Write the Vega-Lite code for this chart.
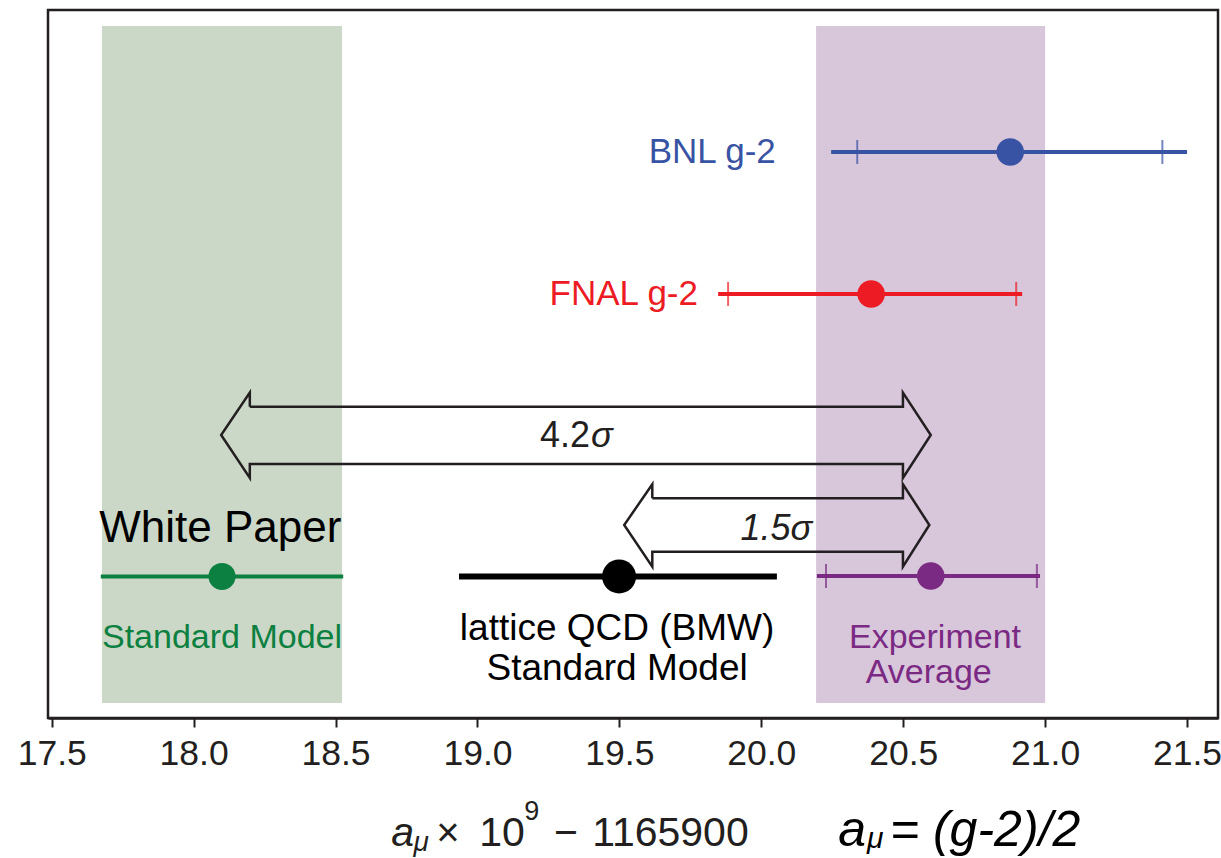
{
  "$schema": "https://vega.github.io/schema/vega-lite/v6.json",
  "width": 1170,
  "height": 708,
  "autosize": {"type": "none"},
  "padding": {"left": 48, "top": 10, "right": 3, "bottom": 140},
  "background": "white",
  "config": {
    "view": {"stroke": "#231f20", "strokeWidth": 2.5},
    "font": "Liberation Sans",
    "text": {"font": "Liberation Sans"}
  },
  "datasets": {
    "bands": [
      {"name": "White Paper band", "lo": 17.677, "hi": 18.523},
      {"name": "Experiment band", "lo": 20.193, "hi": 21.0}
    ],
    "meas": [
      {"name": "White Paper", "row": 20.0, "lo": 17.673, "hi": 18.527, "val": 18.1},
      {"name": "BMW", "row": 20.0, "lo": 18.935, "hi": 20.055, "val": 19.499},
      {"name": "FNAL", "row": 59.9, "lo": 19.848, "hi": 20.919, "val": 20.387},
      {"name": "BNL", "row": 79.94, "lo": 20.246, "hi": 21.5, "val": 20.877},
      {"name": "Experiment", "row": 20.06, "lo": 20.196, "hi": 20.982, "val": 20.597}
    ],
    "caps": [
      {"name": "FNAL", "row": 59.9, "x": 19.883},
      {"name": "FNAL", "row": 59.9, "x": 20.898},
      {"name": "BNL", "row": 79.94, "x": 20.338},
      {"name": "BNL", "row": 79.94, "x": 21.413},
      {"name": "Experiment", "row": 20.06, "x": 20.228},
      {"name": "Experiment", "row": 20.06, "x": 20.971}
    ],
    "arrows": [
      {"arrow": "big", "i": 1, "x": 18.198, "y": 43.97},
      {"arrow": "big", "i": 2, "x": 20.499, "y": 43.97},
      {"arrow": "big", "i": 3, "x": 20.499, "y": 45.95},
      {"arrow": "big", "i": 4, "x": 20.597, "y": 39.97},
      {"arrow": "big", "i": 5, "x": 20.499, "y": 33.9},
      {"arrow": "big", "i": 6, "x": 20.499, "y": 35.88},
      {"arrow": "big", "i": 7, "x": 18.198, "y": 35.88},
      {"arrow": "big", "i": 8, "x": 18.198, "y": 33.9},
      {"arrow": "big", "i": 9, "x": 18.097, "y": 39.97},
      {"arrow": "big", "i": 10, "x": 18.198, "y": 45.95},
      {"arrow": "big", "i": 11, "x": 18.198, "y": 43.97},
      {"arrow": "small", "i": 1, "x": 19.616, "y": 31.03},
      {"arrow": "small", "i": 2, "x": 20.499, "y": 31.03},
      {"arrow": "small", "i": 3, "x": 20.499, "y": 33.01},
      {"arrow": "small", "i": 4, "x": 20.592, "y": 27.26},
      {"arrow": "small", "i": 5, "x": 20.499, "y": 21.37},
      {"arrow": "small", "i": 6, "x": 20.499, "y": 23.49},
      {"arrow": "small", "i": 7, "x": 19.616, "y": 23.49},
      {"arrow": "small", "i": 8, "x": 19.616, "y": 21.37},
      {"arrow": "small", "i": 9, "x": 19.517, "y": 27.26},
      {"arrow": "small", "i": 10, "x": 19.616, "y": 33.01},
      {"arrow": "small", "i": 11, "x": 19.616, "y": 31.03}
    ]
  },
  "layer": [
    {
      "data": {"name": "bands"},
      "mark": {"type": "rect"},
      "encoding": {
        "x": {"field": "lo", "type": "quantitative",
          "scale": {"domain": [17.487, 21.609], "nice": false, "zero": false},
          "axis": {"values": [17.5, 18.0, 18.5, 19.0, 19.5, 20.0, 20.5, 21.0, 21.5], "format": ".1f", "title": null, "grid": false,
            "labelFontSize": 35.5, "labelColor": "#231f20", "labelFont": "Liberation Sans", "labelPadding": 9,
            "tickSize": 9, "tickWidth": 2, "tickColor": "#231f20", "domainColor": "#231f20", "domainWidth": 2.5, "labelFlush": false}},
        "x2": {"field": "hi"},
        "y": {"datum": 2.12, "type": "quantitative", "scale": {"domain": [0, 100], "nice": false, "zero": false}, "axis": null},
        "y2": {"datum": 97.74},
        "color": {"field": "name", "type": "nominal", "legend": null,
          "scale": {"domain": ["White Paper band", "Experiment band", "White Paper", "BMW", "FNAL", "BNL", "Experiment", "Black"],
            "range": ["#cbd8c8", "#d8c6db", "#0b8040", "#000000", "#ed1c24", "#3953a4", "#7b2a83", "#231f20"]}}
      }
    },
    {
      "data": {"name": "arrows"},
      "mark": {"type": "line", "color": "#231f20", "strokeWidth": 2.5, "strokeJoin": "miter", "strokeMiterLimit": 10},
      "encoding": {
        "x": {"field": "x", "type": "quantitative"},
        "y": {"field": "y", "type": "quantitative"},
        "order": {"field": "i", "type": "quantitative"},
        "detail": {"field": "arrow"}
      }
    },
    {
      "data": {"name": "meas"},
      "mark": {"type": "rule"},
      "encoding": {
        "x": {"field": "lo", "type": "quantitative"},
        "x2": {"field": "hi"},
        "y": {"field": "row", "type": "quantitative"},
        "color": {"field": "name", "type": "nominal", "legend": null},
        "strokeWidth": {"field": "name", "type": "nominal", "legend": null,
          "scale": {"type": "ordinal", "domain": ["White Paper", "BMW", "FNAL", "BNL", "Experiment"], "range": [4, 6, 4, 4, 4]}}
      }
    },
    {
      "data": {"name": "caps"},
      "mark": {"type": "tick", "orient": "vertical", "size": 24, "thickness": 2},
      "encoding": {
        "x": {"field": "x", "type": "quantitative"},
        "y": {"field": "row", "type": "quantitative"},
        "color": {"field": "name", "type": "nominal", "legend": null}
      }
    },
    {
      "data": {"name": "meas"},
      "mark": {"type": "point", "shape": "circle", "filled": true, "opacity": 1},
      "encoding": {
        "x": {"field": "val", "type": "quantitative"},
        "y": {"field": "row", "type": "quantitative"},
        "color": {"field": "name", "type": "nominal", "legend": null},
        "size": {"field": "name", "type": "nominal", "legend": null,
          "scale": {"type": "ordinal", "domain": ["White Paper", "BMW", "FNAL", "BNL", "Experiment"], "range": [729, 1156, 756, 756, 756]}}
      }
    },
    {
      "data": {"values": [
        {"name": "BNL", "label": "BNL g-2", "x": 20.051, "y": 78.4},
        {"name": "FNAL", "label": "FNAL g-2", "x": 19.777, "y": 58.3}
      ]},
      "mark": {"type": "text", "align": "right", "baseline": "alphabetic", "fontSize": 35},
      "encoding": {
        "x": {"field": "x", "type": "quantitative"},
        "y": {"field": "y", "type": "quantitative"},
        "text": {"field": "label"},
        "color": {"field": "name", "type": "nominal", "legend": null}
      }
    },
    {
      "data": {"values": [
        {"name": "White Paper", "label": "Standard Model", "x": 18.1, "y": 9.89},
        {"name": "Experiment", "label": "Experiment", "x": 20.612, "y": 9.89},
        {"name": "Experiment", "label": "Average", "x": 20.59, "y": 4.94}
      ]},
      "mark": {"type": "text", "align": "center", "baseline": "alphabetic", "fontSize": 34},
      "encoding": {
        "x": {"field": "x", "type": "quantitative"},
        "y": {"field": "y", "type": "quantitative"},
        "text": {"field": "label"},
        "color": {"field": "name", "type": "nominal", "legend": null}
      }
    },
    {
      "data": {"values": [
        {"label": "lattice QCD (BMW)", "x": 19.492, "y": 11.02},
        {"label": "Standard Model", "x": 19.492, "y": 5.37}
      ]},
      "mark": {"type": "text", "align": "center", "baseline": "alphabetic", "fontSize": 37, "color": "#000000"},
      "encoding": {
        "x": {"field": "x", "type": "quantitative"},
        "y": {"field": "y", "type": "quantitative"},
        "text": {"field": "label"}
      }
    },
    {
      "data": {"values": [{"label": "White Paper", "x": 18.094, "y": 24.86}]},
      "mark": {"type": "text", "align": "center", "baseline": "alphabetic", "fontSize": 44, "color": "#000000"},
      "encoding": {
        "x": {"field": "x", "type": "quantitative"},
        "y": {"field": "y", "type": "quantitative"},
        "text": {"field": "label"}
      }
    },
    {
      "data": {"values": [{"label": "4.2", "x": 19.397, "y": 38.28}]},
      "mark": {"type": "text", "align": "right", "baseline": "alphabetic", "fontSize": 36, "color": "#231f20"},
      "encoding": {
        "x": {"field": "x", "type": "quantitative"},
        "y": {"field": "y", "type": "quantitative"},
        "text": {"field": "label"}
      }
    },
    {
      "data": {"values": [{"label": "σ", "x": 19.4, "y": 38.28}]},
      "mark": {"type": "text", "align": "left", "baseline": "alphabetic", "fontSize": 36, "fontStyle": "italic", "color": "#231f20"},
      "encoding": {
        "x": {"field": "x", "type": "quantitative"},
        "y": {"field": "y", "type": "quantitative"},
        "text": {"field": "label"}
      }
    },
    {
      "data": {"values": [{"label": "1.5σ", "x": 20.053, "y": 25.14}]},
      "mark": {"type": "text", "align": "center", "baseline": "alphabetic", "fontSize": 36, "fontStyle": "italic", "color": "#231f20"},
      "encoding": {
        "x": {"field": "x", "type": "quantitative"},
        "y": {"field": "y", "type": "quantitative"},
        "text": {"field": "label"}
      }
    },
    {
      "data": {"values": [
        {"label": "10", "x": 19.006, "y": -18.1},
        {"label": "−", "x": 19.27, "y": -18.1},
        {"label": "1165900", "x": 19.404, "y": -18.1}
      ]},
      "mark": {"type": "text", "align": "left", "baseline": "alphabetic", "fontSize": 41, "color": "#231f20"},
      "encoding": {
        "x": {"field": "x", "type": "quantitative"},
        "y": {"field": "y", "type": "quantitative"},
        "text": {"field": "label"}
      }
    },
    {
      "data": {"values": [{"label": "×", "x": 18.855, "y": -18.1}]},
      "mark": {"type": "text", "align": "left", "baseline": "alphabetic", "fontSize": 40, "color": "#231f20"},
      "encoding": {
        "x": {"field": "x", "type": "quantitative"},
        "y": {"field": "y", "type": "quantitative"},
        "text": {"field": "label"}
      }
    },
    {
      "data": {"values": [
        {"label": "a", "x": 18.696, "y": -18.1}
      ]},
      "mark": {"type": "text", "align": "left", "baseline": "alphabetic", "fontSize": 41, "fontStyle": "italic", "color": "#231f20"},
      "encoding": {
        "x": {"field": "x", "type": "quantitative"},
        "y": {"field": "y", "type": "quantitative"},
        "text": {"field": "label"}
      }
    },
    {
      "data": {"values": [
        {"label": "μ", "x": 18.775, "y": -18.8}
      ]},
      "mark": {"type": "text", "align": "left", "baseline": "alphabetic", "fontSize": 28, "fontStyle": "italic", "color": "#231f20"},
      "encoding": {
        "x": {"field": "x", "type": "quantitative"},
        "y": {"field": "y", "type": "quantitative"},
        "text": {"field": "label"}
      }
    },
    {
      "data": {"values": [
        {"label": "9", "x": 19.165, "y": -14.4}
      ]},
      "mark": {"type": "text", "align": "left", "baseline": "alphabetic", "fontSize": 27, "color": "#231f20"},
      "encoding": {
        "x": {"field": "x", "type": "quantitative"},
        "y": {"field": "y", "type": "quantitative"},
        "text": {"field": "label"}
      }
    },
    {
      "data": {"values": [
        {"label": "a", "x": 20.271, "y": -18.1},
        {"label": "= (g-2)/2", "x": 20.453, "y": -18.1}
      ]},
      "mark": {"type": "text", "align": "left", "baseline": "alphabetic", "fontSize": 50, "fontStyle": "italic", "color": "#000000"},
      "encoding": {
        "x": {"field": "x", "type": "quantitative"},
        "y": {"field": "y", "type": "quantitative"},
        "text": {"field": "label"}
      }
    },
    {
      "data": {"values": [
        {"label": "μ", "x": 20.372, "y": -18.4}
      ]},
      "mark": {"type": "text", "align": "left", "baseline": "alphabetic", "fontSize": 30, "fontStyle": "italic", "color": "#000000"},
      "encoding": {
        "x": {"field": "x", "type": "quantitative"},
        "y": {"field": "y", "type": "quantitative"},
        "text": {"field": "label"}
      }
    }
  ]
}
